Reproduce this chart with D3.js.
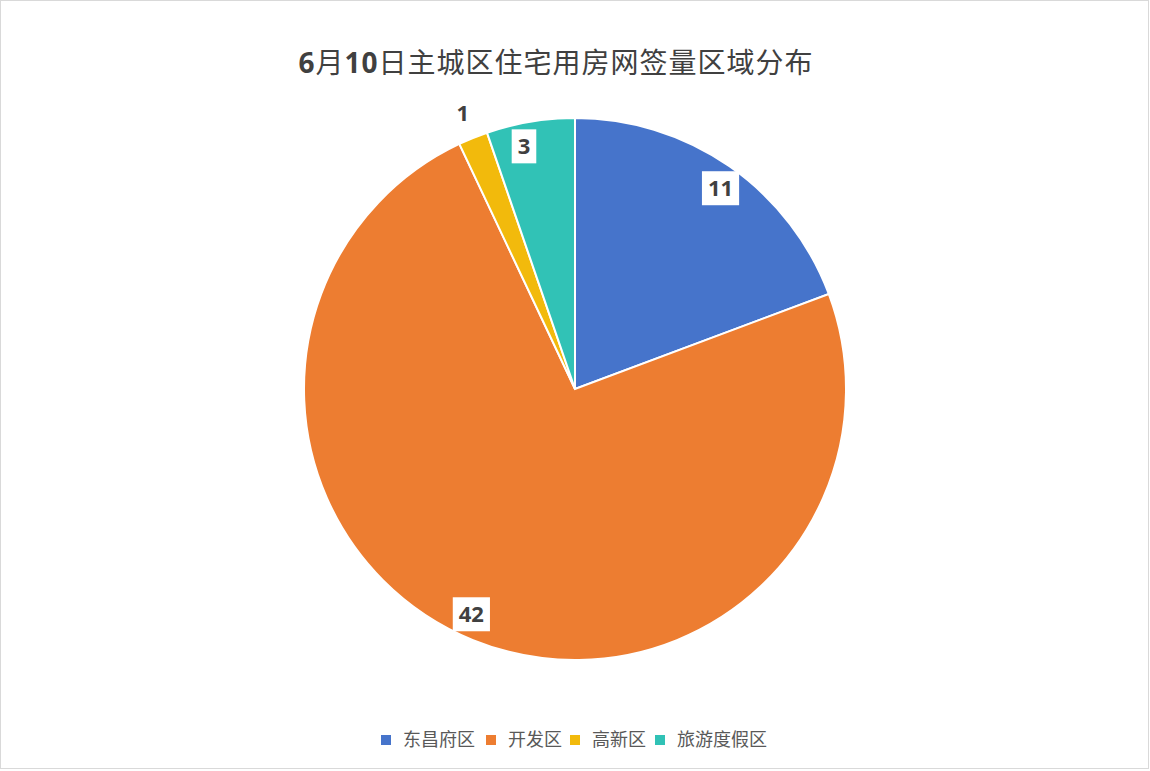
<!DOCTYPE html>
<html>
<head>
	<meta charset="utf-8">
	<title>pie</title>
	<script type="text/javascript" src="https://cdn.jsdelivr.net/npm/d3@7/dist/d3.min.js"></script>
	<style>
		body { margin: 0; background: #fff; }
		text { font-family: "Noto Sans CJK SC", "Noto Sans", sans-serif; }
	</style>
</head>
<body>
	<script type="text/javascript">
		var width = 1150,
			height = 771;

		var categories = ['东昌府区', '开发区', '高新区', '旅游度假区'];
		var values = [11, 42, 1, 3];
		var colors = ['#4674CB', '#ED7D31', '#F2BA0C', '#31C2B6'];
		var titleParts = [['6', true], ['月', false], ['10', true], ['日主城区住宅用房网签量区域分布', false]];

		var svg = d3.select('body')
					.append('svg')
					.attr('width', width)
					.attr('height', height);

		svg.append('rect')
			.attr('x', 0.5).attr('y', 0.5)
			.attr('width', width - 2).attr('height', height - 3)
			.attr('fill', '#fff')
			.attr('stroke', '#D9D9D9');

		// title
		var title = svg.append('text')
			.attr('x', 556).attr('y', 73)
			.attr('text-anchor', 'middle')
			.attr('fill', '#404040')
			.style('font-size', '28px')
			.style('letter-spacing', '1px');
		title.selectAll('tspan')
			.data(titleParts)
			.enter().append('tspan')
			.style('font-weight', function(d){ return d[1] ? 'bold' : 'normal'; })
			.style('font-family', function(d){ return d[1] ? '"Open Sans", sans-serif' : null; })
			.text(function(d){ return d[0]; });

		var cx = 575, cy = 389, r = 271;
		var g = svg.append('g').attr('transform', 'translate(' + cx + ',' + cy + ')');

		var pie = d3.pie().sort(null).value(function(d){ return d; });
		var arcs = pie(values);
		var arc = d3.arc().innerRadius(0).outerRadius(r);

		g.selectAll('path')
			.data(arcs)
			.enter().append('path')
			.attr('d', arc)
			.attr('fill', function(d, i){ return colors[i]; })
			.attr('stroke', '#fff')
			.attr('stroke-width', 2);

		// labels: inside with white box, small slice outside (best-fit style nudges)
		var nudge = [1.2, 2.6, 0, -2.4];
		arcs.forEach(function(d, i){
			var isOut = d.value < 2;
			var a = (d.startAngle + d.endAngle) / 2 + nudge[i] * Math.PI / 180;
			var rr = isOut ? r * 1.1 : r * 0.915;
			var p = [Math.sin(a) * rr, -Math.cos(a) * rr];
			var lg = g.append('g').attr('transform', 'translate(' + p[0] + ',' + p[1] + ')');
			var t = lg.append('text')
				.attr('text-anchor', 'middle')
				.attr('dy', '0.36em')
				.attr('fill', '#404040')
				.style('font-family', '"Open Sans", sans-serif')
				.style('font-weight', 'bold')
				.style('font-size', '22px')
				.text(d.value);
			if (!isOut) {
				var b = t.node().getBBox();
				lg.insert('rect', 'text')
					.attr('x', b.x - 6).attr('y', -17)
					.attr('width', b.width + 12).attr('height', 34)
					.attr('fill', '#fff');
			}
		});

		// legend
		var legendX = [381, 486, 570, 655];
		var legend = svg.selectAll('.legend')
			.data(categories)
			.enter().append('g')
			.attr('class', 'legend')
			.attr('transform', function(d, i){ return 'translate(' + legendX[i] + ',740)'; });
		legend.append('rect')
			.attr('x', 0).attr('y', -5)
			.attr('width', 10).attr('height', 10)
			.attr('fill', function(d, i){ return colors[i]; });
		legend.append('text')
			.attr('x', 22).attr('dy', '0.35em')
			.attr('fill', '#595959')
			.style('font-size', '18px')
			.text(function(d){ return d; });
	</script>
</body>
</html>
